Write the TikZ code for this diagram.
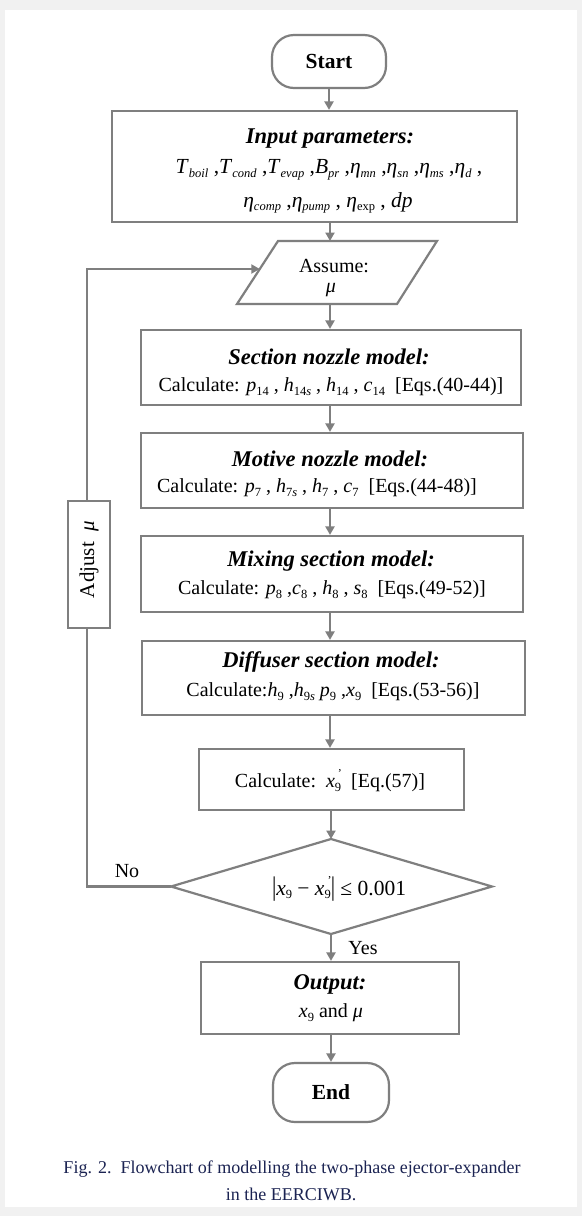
\documentclass[tikz,border=0pt]{standalone}
\usepackage{fontspec}
\setmainfont{Liberation Serif}
\usetikzlibrary{arrows.meta}
\definecolor{linegray}{HTML}{7F7F7F}
\definecolor{capblue}{HTML}{1B2352}
\definecolor{framegray}{HTML}{F1F1F1}
\newcommand\lowsub[1]{\raisebox{-0.35ex}{\fontsize{12.5}{12.5}\selectfont #1}}
\newcommand\vv[2]{\textit{#1}\lowsub{#2}}
\newcommand\xprime{\textit{x}\rlap{\raisebox{1.1ex}{\fontsize{12}{12}\selectfont\ '}}\lowsub{9}}
\begin{document}
\begin{tikzpicture}[x=1pt,y=-1pt,
  box/.style={draw=linegray,line width=2.2pt,fill=white,inner sep=0pt},
  txt/.style={inner sep=0pt,font=\fontsize{20}{24}\selectfont},
  bigtxt/.style={inner sep=0pt,font=\fontsize{21.5}{24}\selectfont},
  ttl/.style={inner sep=0pt,font=\fontsize{22.5}{26}\selectfont\bfseries\itshape},
  term/.style={box,rounded corners=22pt,font=\fontsize{21.5}{24}\selectfont\bfseries},
  conn/.style={draw=linegray,line width=2.2pt,-{Triangle[width=9pt,length=8.5pt]}},
  plain/.style={draw=linegray,line width=2.2pt},
  captxt/.style={inner sep=0pt,text=capblue,font=\fontsize{18}{21}\selectfont}]
% background frame
\fill[framegray] (0,0) rectangle (582,1216);
\fill[white] (5,10) rectangle (577,1207);
\useasboundingbox (0,0) rectangle (582,1216);
\coordinate (ax) at (330,0);
% nodes
\node[term,minimum width=114pt,minimum height=53pt] (start) at (329,61.5) {Start};
\node[box,minimum width=405pt,minimum height=111pt] (input) at (314.5,166.5) {};
\node[ttl] (inT) at (330,139) {Input parameters:};
\node[bigtxt] (in2) at (329,170) {\vv{T}{\textit{boil}} ,\vv{T}{\textit{cond}} ,\vv{T}{\textit{evap}} ,\vv{B}{\textit{pr}} ,\vv{η}{\textit{mn}} ,\vv{η}{\textit{sn}} ,\vv{η}{\textit{ms}} ,\vv{η}{\textit{d}} ,};
\node[bigtxt] (in3) at (328,203) {\vv{η}{\textit{comp}} ,\vv{η}{\textit{pump}} , \vv{η}{exp} , \textit{dp}};
% parallelogram
\coordinate (p1) at (278,241);
\coordinate (p2) at (437,241);
\coordinate (p3) at (397,304);
\coordinate (p4) at (237,304);
\draw[plain,fill=white,line join=miter] (p1) -- (p2) -- (p3) -- (p4) -- cycle;
\coordinate (atop) at (330,241);
\coordinate (abot) at (330,304);
\coordinate (aleft) at (259.8,269);
\node[txt] (as1) at (334,266) {Assume:};
\node[txt] (as2) at (331,290) {\textit{μ}};
% model boxes
\node[box,minimum width=380pt,minimum height=75pt] (sec) at (331,367.5) {};
\node[ttl] (secT) at (329,357) {Section nozzle model:};
\node[txt] (secC) at (331,387) {Calculate: \vv{p}{14} , \vv{h}{14\textit{s}} , \vv{h}{14} , \vv{c}{14}\ \ [Eqs.(40-44)]};
\node[box,minimum width=382pt,minimum height=75pt] (mot) at (332,470.5) {};
\node[ttl] (motT) at (330,459) {Motive nozzle model:};
\node[txt] (motC) at (317,488) {Calculate: \vv{p}{7} , \vv{h}{7\textit{s}} , \vv{h}{7} , \vv{c}{7}\ \ [Eqs.(44-48)]};
\node[box,minimum width=382pt,minimum height=76pt] (mix) at (332,574) {};
\node[ttl] (mixT) at (331,561) {Mixing section model:};
\node[txt] (mixC) at (332,590) {Calculate: \vv{p}{8} ,\vv{c}{8} , \vv{h}{8} , \vv{s}{8}\ \ [Eqs.(49-52)]};
\node[box,minimum width=383pt,minimum height=74pt] (dif) at (333.5,678) {};
\node[ttl] (difT) at (331,662) {Diffuser section model:};
\node[txt] (difC) at (333,692) {Calculate:\vv{h}{9} ,\vv{h}{9\textit{s}}\ \vv{p}{9} ,\vv{x}{9}\ \ [Eqs.(53-56)]};
\node[box,minimum width=265pt,minimum height=61pt] (calc) at (331.5,779.5) {};
\node[txt] (calcT) at (330,781) {Calculate:\ \ \xprime\ \ [Eq.(57)]};
% decision
\coordinate (dt) at (331,839);
\coordinate (dr) at (492,886.5);
\coordinate (db) at (331,934);
\coordinate (dl) at (171,886.5);
\draw[plain,fill=white,line join=miter] (dt) -- (dr) -- (db) -- (dl) -- cycle;
\node[bigtxt] (dia) at (339,889) {\scalebox{1}[1.25]{|}\vv{x}{9} − \xprime\scalebox{1}[1.25]{|} ≤ 0.001};
% output / end
\node[box,minimum width=258pt,minimum height=72pt] (out) at (330,998) {};
\node[ttl] (outT) at (330,984) {Output:};
\node[txt] (outC) at (331,1013) {\vv{x}{9} and \textit{μ}};
\node[term,minimum width=116pt,minimum height=59pt] (end) at (331,1092.5) {End};
% connectors
\draw[conn] (start.south) -- (start.south |- input.north);
\draw[conn] (input.south -| ax) -- (atop);
\draw[conn] (abot) -- (abot |- sec.north);
\draw[conn] (sec.south -| ax) -- (mot.north -| ax);
\draw[conn] (mot.south -| ax) -- (mix.north -| ax);
\draw[conn] (mix.south -| ax) -- (dif.north -| ax);
\draw[conn] (dif.south -| ax) -- (calc.north -| ax);
\draw[conn] (calc.south -| dt) -- (dt);
\draw[conn] (db) -- (db |- out.north);
\draw[conn] (out.south -| end.north) -- (end.north);
% loop
\coordinate (c1) at (87,886.5);
\coordinate (c2) at (87,269);
\draw[conn,line join=miter] (dl) -- (c1) -- (c2) -- (aleft);
\node[box,minimum width=127pt,minimum height=42pt,rotate=90,font=\fontsize{21}{24}\selectfont] (adj) at (89,564.5) {\raisebox{0pt}{\hspace{10pt}Adjust\ \ \textit{μ}}};
\node[txt] (no) at (127,871) {No};
\node[txt] (yes) at (363,948) {Yes};
% caption
\node[captxt] (cap1) at (292,1169) {Fig. 2.\ \ Flowchart of modelling the two-phase ejector-expander};
\node[captxt] (cap2) at (291,1194) {in the EERCIWB.};
\end{tikzpicture}
\end{document}
